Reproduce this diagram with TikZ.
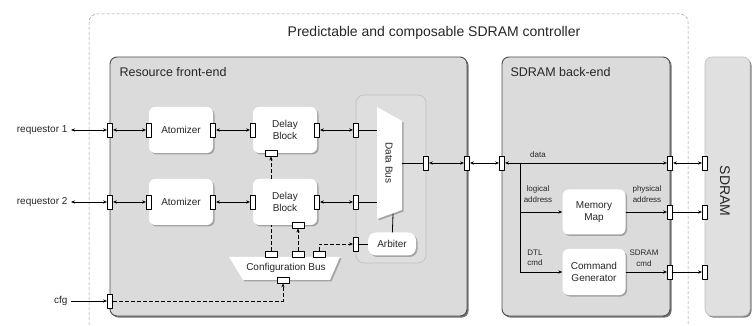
\documentclass[tikz,border=0pt]{standalone}
\usepackage{fontspec}
\setmainfont{Liberation Sans}
\usetikzlibrary{arrows.meta,shadows}

\begin{document}
\begin{tikzpicture}[x=1pt, y=-1pt, line join=round, >={Stealth[length=4pt,width=3.2pt]},
	txt/.style={font=\fontsize{10}{12.5}\selectfont, text=black!85, align=center},
	small/.style={font=\fontsize{8}{10.5}\selectfont, text=black!85, align=center, inner sep=0pt},
	title/.style={font=\fontsize{14}{16}\selectfont, text=black!85},
	head/.style={font=\fontsize{12.5}{14}\selectfont, text=black!85, anchor=west},
	big/.style={rounded corners=7pt, fill=black!14, draw=black!70, line width=0.9pt,
		drop shadow={shadow xshift=1.6pt, shadow yshift=-1.6pt, fill=black!55, opacity=1}},
	wshape/.style={fill=white, drop shadow={shadow xshift=1.5pt, shadow yshift=-1.5pt, fill=black!45, opacity=0.7}},
	blk/.style={txt, wshape, rounded corners=6pt, minimum width=64pt, minimum height=46pt, inner sep=0pt},
	port/.style={draw, line width=0.8pt, fill=white, minimum width=5pt, minimum height=14pt, inner sep=0pt},
	hport/.style={port, minimum width=12pt, minimum height=6pt},
	link/.style={line width=0.8pt},
	ctrl/.style={line width=0.8pt, dash pattern=on 4pt off 2pt},
	]
	\useasboundingbox (0,0) rectangle (756,326);
	
	% frame and the three regions
	\draw[black!40, line width=0.5pt, dash pattern=on 3pt off 2pt, rounded corners=8pt]
		(89,345) -- (89,14) -- (688,14) -- (688,345);
	\node[title] (T) at (434,33) {Predictable and composable SDRAM controller};
	
	\path[big] (110,57) rectangle (467,316);
	\path[big] (502,57) rectangle (670,316);
	\path[rounded corners=7pt, fill=black!12, draw=black!25, line width=0.6pt,
		drop shadow={shadow xshift=1.6pt, shadow yshift=-1.6pt, fill=black!50, opacity=1}]
		(705,57) rectangle (750,316);
	\path[rounded corners=8pt, fill=black!13, draw=black!25, line width=0.6pt] (356,95) rectangle (426,263);
	
	\node[head] (FE) at (116,72) {Resource front-end};
	\node[head] (BE) at (507,72) {SDRAM back-end};
	\node[title, rotate=-90] (SD) at (725,191) {SDRAM};
	
	% blocks
	\node[blk] (A1) at (181,130) {Atomizer};
	\node[blk] (D1) at (285,130) {Delay\\Block};
	\node[blk] (A2) at (181,202) {Atomizer};
	\node[blk] (D2) at (285,202) {Delay\\Block};
	\node[blk, minimum width=48pt, minimum height=23pt, rounded corners=8pt] (ARB) at (392,244) {Arbiter};
	\node[blk, minimum width=63pt, minimum height=45pt] (MM) at (594,212) {Memory\\Map};
	\node[blk, minimum width=63pt, minimum height=46pt] (CG) at (594,272) {Command\\Generator};
	
	\path[wshape] (377,107) -- (402,121) -- (402,210) -- (377,219) -- cycle;
	\node[txt, rotate=-90] (DB) at (389,163) {Data Bus};
	\path[wshape] (229,257) -- (340,257) -- (330,280) -- (243,280) -- cycle;
	\node[txt] (CB) at (286,268) {Configuration Bus};
	
	\path
		(377,130) coordinate (db1)
		(377,202) coordinate (db2)
		(402,163) coordinate (dbo)
		(393,214) coordinate (dbb)
		(520,163) coordinate (jd)
		(520,212) coordinate (jm)
		(520,272) coordinate (jc)
	;
	
	% outside labels
	\node[txt, anchor=east] (Q1) at (71,130) {requestor 1};
	\node[txt, anchor=east] (Q2) at (71,202) {requestor 2};
	\node[txt, anchor=east] (CFG) at (71,301) {cfg};
	
	% ports
	\foreach \n/\x in {r/110, al/149, ar/213, dl/253, dr/317, i/356}{
		\node[port] (\n1) at (\x,130) {};
		\node[port] (\n2) at (\x,202) {};
	};
	\foreach \n/\x in {pdb/426, pfe/467, pbe/502, pbd/670, psd/705}{
		\node[port] (\n) at (\x,163) {};
	};
	\node[port] (pmm) at (670,212) {};
	\node[port] (psm) at (705,212) {};
	\node[port] (pcg) at (670,272) {};
	\node[port] (psc) at (705,272) {};
	\node[port] (parb) at (356,244) {};
	\node[port] (pcfg) at (110,301) {};
	\node[hport] (pd1b) at (271,153) {};
	\node[hport] (pd2b) at (298,225) {};
	\foreach \n/\x in {1/271, 2/298, 3/319}{
		\node[hport] (pc\n) at (\x,254) {};
	};
	\node[hport] (pcb) at (283,280) {};
	
	% data path
	\foreach \k in {1,2}{
		\draw[link, <->] (Q\k) -- (r\k);
		\draw[link, <->] (r\k) -- (al\k);
		\draw[link, <->] (ar\k) -- (dl\k);
		\draw[link, <->] (dr\k) -- (i\k);
		\draw[link] (i\k) -- (db\k);
	};
	\draw[link] (dbo) -- (pdb);
	\draw[link, <->] (pdb) -- (pfe);
	\draw[link, <->] (pfe) -- (pbe);
	\draw[link, <->] (pbe) -- (pbd);
	\draw[link, <->] (pbd) -- (psd);
	\draw[link] (dbb) -- (ARB);
	\draw[link] (parb) -- (ARB);
	
	% back-end
	\draw[link] (jd) -- (jc);
	\draw[link, ->] (jm) -- (MM);
	\draw[link, ->] (jc) -- (CG);
	\draw[link, ->] (MM) -- (pmm);
	\draw[link, ->] (CG) -- (pcg);
	\draw[link, ->] (pmm) -- (psm);
	\draw[link, ->] (pcg) -- (psc);
	
	\node[small] (Ldata) at (538,155) {data};
	\node[small] (Llog) at (538,194) {logical\\address};
	\node[small] (Lphy) at (647,194) {physical\\address};
	\node[small] (Ldtl) at (535,258) {DTL\\cmd};
	\node[small] (Lsdc) at (644,258) {SDRAM\\cmd};
	
	% configuration
	\draw[link, ->] (CFG) -- (pcfg);
	\draw[ctrl, ->] (pcfg) -| (pcb);
	\draw[ctrl, ->] (pd1b |- D2.north) -- (pd1b);
	\draw[ctrl] (pc1) -- (pc1 |- D2.south);
	\draw[ctrl, ->] (pc2) -- (pd2b);
	\draw[ctrl, ->] (pc3) |- (parb);
	
\end{tikzpicture}
\end{document}
